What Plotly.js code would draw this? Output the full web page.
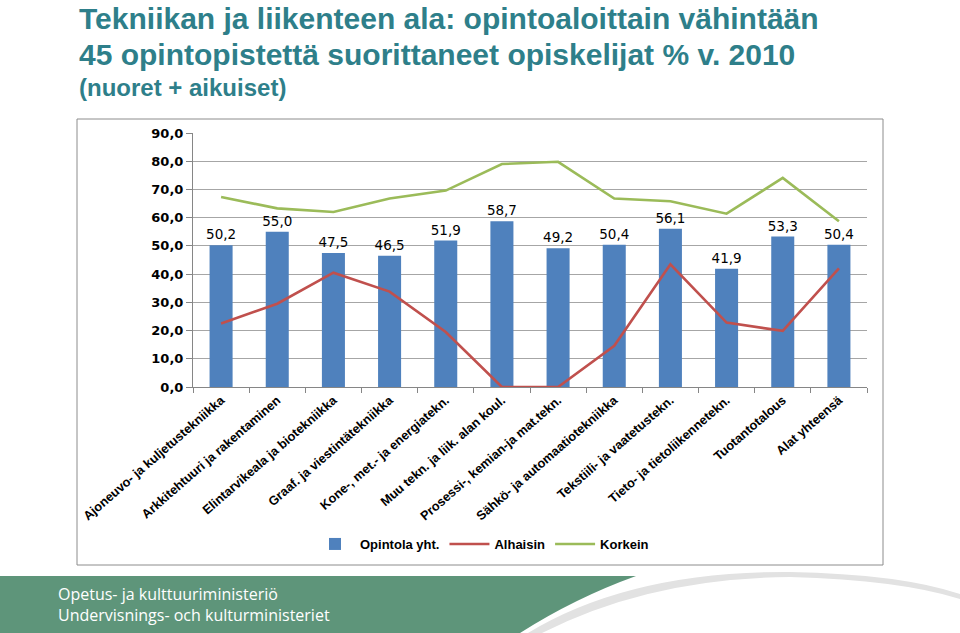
<!DOCTYPE html>
<html>
<head>
<meta charset="utf-8">
<script src="https://cdn.plot.ly/plotly-3.0.1.min.js"></script>
<style>
html,body{margin:0;padding:0;background:#fff;}
#chart{width:960px;height:633px;}
</style>
</head>
<body>
<div id="chart"></div>
<script>
// ---- data ----
var categories = [
  "Ajoneuvo- ja kuljetustekniikka",
  "Arkkitehtuuri ja rakentaminen",
  "Elintarvikeala ja biotekniikka",
  "Graaf. ja viestintätekniikka",
  "Kone-, met.- ja energiatekn.",
  "Muu tekn. ja liik. alan koul.",
  "Prosessi-, kemian-ja mat.tekn.",
  "Sähkö- ja automaatiotekniikka",
  "Tekstiili- ja vaatetustekn.",
  "Tieto- ja tietoliikennetekn.",
  "Tuotantotalous",
  "Alat yhteensä"
];
var opintolaYht = [50.2, 55.0, 47.5, 46.5, 51.9, 58.7, 49.2, 50.4, 56.1, 41.9, 53.3, 50.4];
var alhaisin    = [22.5, 29.5, 40.5, 33.8, 19.5, 0.0, 0.0, 14.6, 43.5, 22.8, 19.9, 42.0];
var korkein     = [67.3, 63.3, 62.0, 66.8, 69.6, 79.0, 79.8, 66.8, 65.8, 61.4, 74.1, 58.7];
var seriesNames = ["Opintola yht.", "Alhaisin", "Korkein"];
var yTicks = [0, 10, 20, 30, 40, 50, 60, 70, 80, 90];

// ---- layout helpers (pixel -> paper) ----
var L = 193, R = 867, T = 133, B = 387;
function px(x){ return (x - L) / (R - L); }
function py(y){ return (B - y) / (B - T); }
function p(x, y){ return px(x).toFixed(4) + "," + py(y).toFixed(4); }

var titleColor = "#2E7F8A";
var titleFont = "Liberation Sans, Arial, sans-serif";

var traces = [
  {
    type: "bar", name: seriesNames[0], x: categories, y: opintolaYht,
    marker: {color: "#4F81BD"}, width: 0.41,
    texttemplate: "%{y:.1f}", textposition: "outside", cliponaxis: false,
    constraintext: "none",
    textfont: {family: "DejaVu Sans, Verdana, sans-serif", size: 13.5, color: "#000"},
    hoverinfo: "skip"
  },
  {
    type: "scatter", mode: "lines", name: seriesNames[1], x: categories, y: alhaisin,
    line: {color: "#C0504D", width: 2.6}, cliponaxis: false
  },
  {
    type: "scatter", mode: "lines", name: seriesNames[2], x: categories, y: korkein,
    line: {color: "#9BBB59", width: 2.6}, cliponaxis: false
  }
];

var layout = {
  width: 960, height: 633,
  margin: {l: L, r: 960 - R, t: T, b: 633 - B, pad: 0},
  paper_bgcolor: "#fff", plot_bgcolor: "#fff",
  separators: ", ",
  showlegend: true,
  bargap: 0.59,
  xaxis: {
    type: "category",
    showline: true, linecolor: "#868686", linewidth: 1,
    ticks: "outside", ticklen: 5, tickcolor: "#868686", tickson: "boundaries",
    tickangle: -41,
    tickfont: {family: "Liberation Sans, Arial, sans-serif", size: 12.7, color: "#000", weight: "bold"},
    showgrid: false, zeroline: false, automargin: false
  },
  yaxis: {
    range: [0, 90], tickvals: yTicks, tickformat: ".1f",
    showline: true, linecolor: "#868686", linewidth: 1,
    ticks: "outside", ticklen: 6, tickcolor: "#868686",
    showgrid: true, gridcolor: "#A6A6A6", gridwidth: 1,
    zeroline: false,
    tickfont: {family: "DejaVu Sans, Verdana, sans-serif", size: 13, color: "#000", weight: "bold"},
    automargin: false
  },
  legend: {
    orientation: "h", x: px(482), xanchor: "center", y: py(544), yanchor: "middle",
    font: {family: "Liberation Sans, Arial, sans-serif", size: 13, color: "#000", weight: "bold"},
    bgcolor: "rgba(0,0,0,0)", itemwidth: 40, traceorder: "normal"
  },
  shapes: [
    // chart frame
    {type: "rect", xref: "paper", yref: "paper", x0: px(77), x1: px(883), y0: py(565), y1: py(119),
     line: {color: "#8C8C8C", width: 1}, fillcolor: "rgba(0,0,0,0)", layer: "below"},
    // footer green band
    {type: "path", xref: "paper", yref: "paper",
     path: "M " + p(0, 576) + " L " + p(636, 576) + " Q " + p(575, 598) + " " + p(520, 633) + " L " + p(0, 633) + " Z",
     fillcolor: "#5E957A", line: {width: 0}, layer: "above"},
    // grey swoosh
    {type: "path", xref: "paper", yref: "paper",
     path: "M " + p(528, 633) + " Q " + p(630, 571) + " " + p(790, 572) + " Q " + p(900, 574) + " " + p(960, 594) +
           " L " + p(960, 599) + " Q " + p(900, 580) + " " + p(790, 577) + " Q " + p(650, 578) + " " + p(542, 633) + " Z",
     fillcolor: "#E2E2E2", line: {width: 0}, layer: "above"}
  ],
  annotations: [
    {xref: "paper", yref: "paper", x: px(77), y: py(19), xanchor: "left", yanchor: "middle", showarrow: false,
     text: "Tekniikan ja liikenteen ala: opintoaloittain vähintään",
     font: {family: titleFont, size: 30, color: titleColor, weight: "bold"}},
    {xref: "paper", yref: "paper", x: px(77), y: py(54), xanchor: "left", yanchor: "middle", showarrow: false,
     text: "45 opintopistettä suorittaneet opiskelijat % v. 2010",
     font: {family: titleFont, size: 30, color: titleColor, weight: "bold"}},
    {xref: "paper", yref: "paper", x: px(77), y: py(87), xanchor: "left", yanchor: "middle", showarrow: false,
     text: "(nuoret + aikuiset)",
     font: {family: titleFont, size: 24, color: titleColor, weight: "bold"}},
    {xref: "paper", yref: "paper", x: px(56), y: py(594), xanchor: "left", yanchor: "middle", showarrow: false,
     text: "Opetus- ja kulttuuriministeriö",
     font: {family: "Open Sans, Noto Sans, sans-serif", size: 16, color: "#fff"}},
    {xref: "paper", yref: "paper", x: px(56), y: py(615), xanchor: "left", yanchor: "middle", showarrow: false,
     text: "Undervisnings- och kulturministeriet",
     font: {family: "Open Sans, Noto Sans, sans-serif", size: 16, color: "#fff"}}
  ]
};

Plotly.newPlot("chart", traces, layout, {staticPlot: true, displayModeBar: false});
</script>
</body>
</html>
